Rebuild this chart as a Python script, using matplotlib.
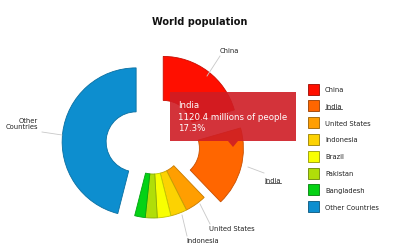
import matplotlib
matplotlib.use("Agg")
import matplotlib.pyplot as plt
from matplotlib.colors import to_rgb
from matplotlib.patches import Rectangle, Polygon

# population in millions
countries = ["China", "India", "United States", "Indonesia", "Brazil",
             "Pakistan", "Bangladesh", "Other Countries"]
population = [1330.0, 1120.4, 304.0, 232.0, 192.0, 168.0, 150.0, 2980.0]
colors = ["#FF0F00", "#FF6600", "#FF9E01", "#FCD202", "#F8FF01",
          "#B0DE09", "#04D215", "#0D8ECF"]
pulled = ["China", "India", "Other Countries"]
slice_labels = {"China": "China", "India": "India", "United States": "United States",
                "Indonesia": "Indonesia", "Other Countries": "Other\nCountries"}
hover = "India"

W, H = 400, 253
fig = plt.figure(figsize=(W / 100, H / 100), dpi=100)
ax = fig.add_axes([0, 0, 1, 1])

CX, CY, R, HOLE = 153, 145, 74, 30
PULL = 17


def darker(c, f=0.78):
    r, g, b = to_rgb(c)
    return (r * f, g * f, b * f)


# pie offsets are in data units here (pixels)
explode = [PULL if c in pulled else 0 for c in countries]
wedges, _ = ax.pie(population, colors=colors, radius=R, center=(CX, CY),
                   startangle=-90, counterclock=True, explode=explode,
                   labeldistance=None,
                   wedgeprops=dict(width=R - HOLE, linewidth=0.6))
for w, c in zip(wedges, colors):
    w.set_edgecolor(darker(c))

ax.set_xlim(0, W)
ax.set_ylim(H, 0)
ax.set_aspect("equal")
ax.axis("off")

fig.text(0.5, 1 - 22 / H, "World population", ha="center", va="center",
         fontsize=7, fontweight="bold", color="#111111")


def underline(t):
    fig.canvas.draw()
    bb = t.get_window_extent().transformed(ax.transData.inverted())
    y = max(bb.y0, bb.y1) + 0.2
    ax.plot([bb.x0, bb.x1], [y, y], color="#222222", lw=0.5)


# slice labels with leader lines
label_pos = {
    "China": ((229, 51), [(220, 57), (207, 77)], "center"),
    "India": ((273, 181), [(264, 174), (248, 168)], "center"),
    "United States": ((232, 229), [(210, 225), (200, 205)], "center"),
    "Indonesia": ((203, 241), [(187, 237), (182, 216)], "center"),
    "Other Countries": ((38, 124), [(42, 133), (62, 136)], "right"),
}
for name, (txt_xy, line, ha) in label_pos.items():
    xs = [p[0] for p in line]
    ys = [p[1] for p in line]
    ax.plot(xs, ys, color="#c8c8c8", lw=0.6, zorder=1)
    t = ax.text(txt_xy[0], txt_xy[1], slice_labels[name], ha=ha, va="center",
                multialignment="right", fontsize=4.9, color="#222222",
                linespacing=1.1)
    if name == hover:
        underline(t)

# tooltip
i = countries.index(hover)
share = population[i] / sum(population) * 100
ax.add_patch(Rectangle((170, 93), 126, 49, facecolor="#cf1d24", alpha=0.9,
                       edgecolor="none", zorder=5))
ax.add_patch(Polygon([(228, 142), (238, 142), (233, 148)], closed=True,
                     facecolor="#cf1d24", alpha=0.9, edgecolor="none", zorder=5))
ax.text(178, 117, f"{hover}\n{population[i]:.1f} millions of people\n{share:.1f}%",
        ha="left", va="center", fontsize=6.2, color="white", linespacing=1.35,
        zorder=6)

# legend
for k, (name, c) in enumerate(zip(countries, colors)):
    y = 90 + k * 16.8
    ax.add_patch(Rectangle((308, y - 5.5), 11, 11, facecolor=c,
                           edgecolor=darker(c, 0.6), lw=0.6))
    t = ax.text(325, y, name, ha="left", va="center", fontsize=4.9, color="#222222")
    if name == hover:
        underline(t)

fig.savefig("out.png", dpi=100)
